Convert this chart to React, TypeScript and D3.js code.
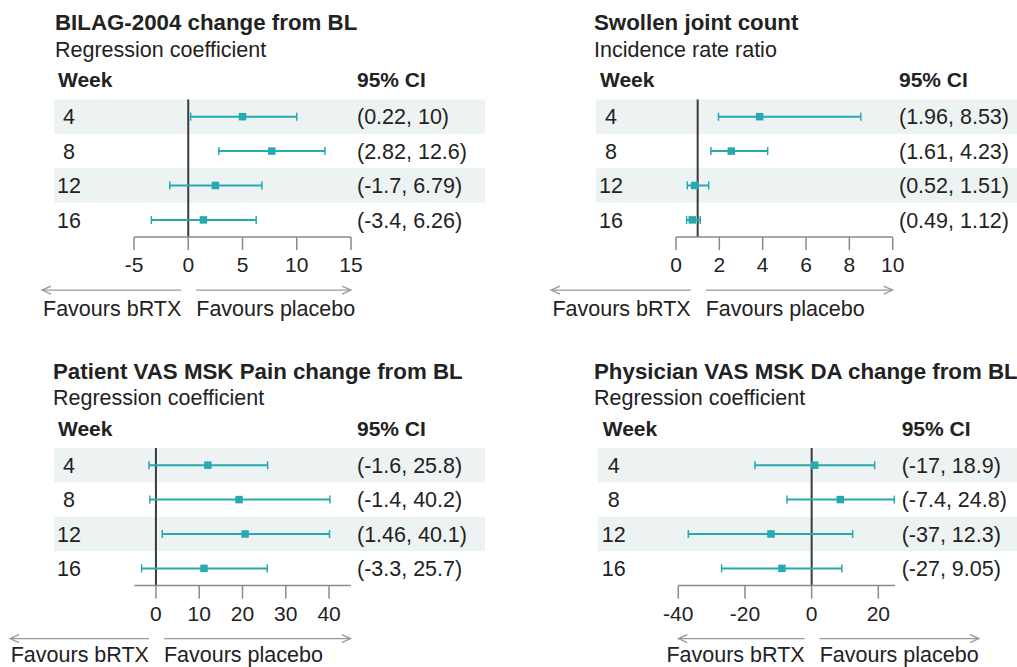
import React from 'react';
import { scaleLinear, scaleBand } from 'd3';

// ---- data ----
const weeks = [4, 8, 12, 16];

const bilagEst = [5.0, 7.7, 2.5, 1.4];
const bilagLo = [0.22, 2.82, -1.7, -3.4];
const bilagHi = [10, 12.6, 6.79, 6.26];
const bilagCI = ['(0.22, 10)', '(2.82, 12.6)', '(-1.7, 6.79)', '(-3.4, 6.26)'];
const bilagTicks = [-5, 0, 5, 10, 15];

const sjcEst = [3.86, 2.55, 0.86, 0.75];
const sjcLo = [1.96, 1.61, 0.52, 0.49];
const sjcHi = [8.53, 4.23, 1.51, 1.12];
const sjcCI = ['(1.96, 8.53)', '(1.61, 4.23)', '(0.52, 1.51)', '(0.49, 1.12)'];
const sjcTicks = [0, 2, 4, 6, 8, 10];

const painEst = [12.0, 19.2, 20.6, 11.1];
const painLo = [-1.6, -1.4, 1.46, -3.3];
const painHi = [25.8, 40.2, 40.1, 25.7];
const painCI = ['(-1.6, 25.8)', '(-1.4, 40.2)', '(1.46, 40.1)', '(-3.3, 25.7)'];
const painTicks = [0, 10, 20, 30, 40];

const physEst = [0.9, 8.6, -12.2, -8.9];
const physLo = [-17, -7.4, -37, -27];
const physHi = [18.9, 24.8, 12.3, 9.05];
const physCI = ['(-17, 18.9)', '(-7.4, 24.8)', '(-37, 12.3)', '(-27, 9.05)'];
const physTicks = [-40, -20, 0, 20];

const TEAL = '#26a9b1';
const BAND = '#edf2f2';
const INK = '#222';
const GREY = '#8a8a8a';
const FONT = '"Liberation Sans", Arial, sans-serif';
const H = 667;

type Panel = {
  title: string;
  subtitle: string;
  est: number[];
  lo: number[];
  hi: number[];
  ci: string[];
  ticks: number[];
  domain: [number, number];
  ref: number;
  // layout
  top: number;
  titleX: number;
  weekX: number;
  ciX: number;
  bandX: [number, number];
  axisX: [number, number];
  arrowStart: number;
  arrowEnd: number;
};

const panels: Panel[] = [
  {
    title: 'BILAG-2004 change from BL', subtitle: 'Regression coefficient',
    est: bilagEst, lo: bilagLo, hi: bilagHi, ci: bilagCI, ticks: bilagTicks,
    domain: [-5, 15], ref: 0,
    top: 0, titleX: 55, weekX: 58, ciX: 357, bandX: [54, 485], axisX: [134, 351],
    arrowStart: 42, arrowEnd: 351,
  },
  {
    title: 'Swollen joint count', subtitle: 'Incidence rate ratio',
    est: sjcEst, lo: sjcLo, hi: sjcHi, ci: sjcCI, ticks: sjcTicks,
    domain: [0, 10], ref: 1,
    top: 0, titleX: 594, weekX: 600, ciX: 899, bandX: [596, 1017], axisX: [676, 892.7],
    arrowStart: 551, arrowEnd: 892.7,
  },
  {
    title: 'Patient VAS MSK Pain change from BL', subtitle: 'Regression coefficient',
    est: painEst, lo: painLo, hi: painHi, ci: painCI, ticks: painTicks,
    domain: [-5, 45], ref: 0,
    top: 348.5, titleX: 53, weekX: 58, ciX: 357, bandX: [54, 485], axisX: [134.3, 350.7],
    arrowStart: 10, arrowEnd: 350.7,
  },
  {
    title: 'Physician VAS MSK DA change from BL', subtitle: 'Regression coefficient',
    est: physEst, lo: physLo, hi: physHi, ci: physCI, ticks: physTicks,
    domain: [-40, 25], ref: 0,
    top: 348.5, titleX: 594, weekX: 602.7, ciX: 901.7, bandX: [597.7, 1017], axisX: [678.3, 895],
    arrowStart: 678.3, arrowEnd: 979,
  },
];

function Forest({ p }: { p: Panel }) {
  const x = scaleLinear().domain(p.domain).range(p.axisX);
  const rowTop = p.top + 99.5;
  const y = scaleBand<number>().domain(weeks).range([rowTop, rowTop + 137.6]).padding(0);
  const bw = y.bandwidth();
  const axisY = rowTop + 137.6;
  const x0 = x(p.ref);
  const arrowY = axisY + 53;
  const favY = Math.min(axisY + 78.5, H - 5.5);
  const cap = 4;

  return (
    <g fontFamily={FONT} fill={INK}>
      <text x={p.titleX} y={p.top + 30} fontSize={22.3} fontWeight="bold">{p.title}</text>
      <text x={p.titleX} y={p.top + 56.5} fontSize={21.5}>{p.subtitle}</text>
      <text x={p.weekX} y={p.top + 87} fontSize={21} fontWeight="bold">Week</text>
      <text x={p.ciX} y={p.top + 87} fontSize={21} fontWeight="bold">95% CI</text>

      {/* shaded rows */}
      {weeks.map((w, i) => i % 2 === 0 && (
        <rect key={'b' + w} x={p.bandX[0]} y={y(w)} width={p.bandX[1] - p.bandX[0]} height={bw} fill={BAND} />
      ))}

      {/* row labels */}
      {weeks.map((w, i) => (
        <g key={'t' + w} fontSize={21.5}>
          <text x={p.weekX + 11} y={(y(w) as number) + bw / 2} dy="0.36em" textAnchor="middle">{w}</text>
          <text x={p.ciX} y={(y(w) as number) + bw / 2} dy="0.36em">{p.ci[i]}</text>
        </g>
      ))}

      {/* reference line */}
      <line x1={x0} x2={x0} y1={rowTop} y2={axisY} stroke="#3a3a3a" strokeWidth={2} />

      {/* estimates + CI */}
      {weeks.map((w, i) => {
        const cy = (y(w) as number) + bw / 2;
        return (
          <g key={'e' + w} stroke={TEAL}>
            <line x1={x(p.lo[i])} x2={x(p.hi[i])} y1={cy} y2={cy} strokeWidth={2} />
            <line x1={x(p.lo[i])} x2={x(p.lo[i])} y1={cy - cap} y2={cy + cap} strokeWidth={1.5} />
            <line x1={x(p.hi[i])} x2={x(p.hi[i])} y1={cy - cap} y2={cy + cap} strokeWidth={1.5} />
            <rect x={x(p.est[i]) - 3.75} y={cy - 3.75} width={7.5} height={7.5} fill={TEAL} stroke="none" />
          </g>
        );
      })}

      {/* x axis */}
      <line x1={p.axisX[0]} x2={p.axisX[1]} y1={axisY} y2={axisY} stroke={GREY} strokeWidth={1.5} />
      {p.ticks.map(t => (
        <g key={'k' + t}>
          <line x1={x(t)} x2={x(t)} y1={axisY} y2={axisY + 13} stroke={GREY} strokeWidth={1.5} />
          <text x={x(t)} y={axisY + 35} textAnchor="middle" fontSize={21}>{t}</text>
        </g>
      ))}

      {/* favours arrows */}
      <g stroke="#999" strokeWidth={1.2} fill="none">
        <line x1={p.arrowStart} x2={x0 - 7} y1={arrowY} y2={arrowY} />
        <polyline points={`${p.arrowStart + 9},${arrowY - 4} ${p.arrowStart},${arrowY} ${p.arrowStart + 9},${arrowY + 4}`} />
        <line x1={x0 + 8} x2={p.arrowEnd} y1={arrowY} y2={arrowY} />
        <polyline points={`${p.arrowEnd - 9},${arrowY - 4} ${p.arrowEnd},${arrowY} ${p.arrowEnd - 9},${arrowY + 4}`} />
      </g>
      <text x={x0 - 7} y={favY} textAnchor="end" fontSize={21.5}>Favours bRTX</text>
      <text x={x0 + 8} y={favY} fontSize={21.5}>Favours placebo</text>
    </g>
  );
}

export default function App() {
  return (
    <svg width={1017} height={H} style={{ position: 'absolute', left: 0, top: 0, background: '#fff' }}>
      <rect width={1017} height={H} fill="#fff" />
      {panels.map((p, i) => <Forest key={i} p={p} />)}
    </svg>
  );
}
